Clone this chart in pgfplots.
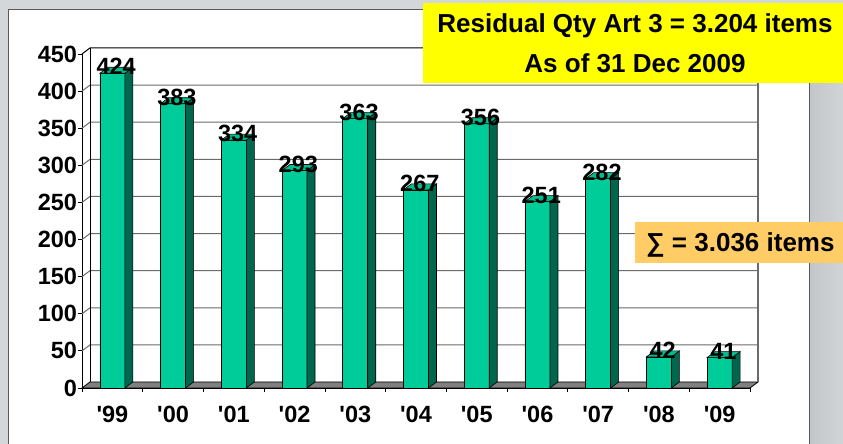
\documentclass[border=0pt]{standalone}
\usepackage{fontspec}
\setmainfont{Liberation Sans}[Ligatures=TeXOff]
\usepackage{pgfplots}
\usepackage{pgfplotstable}
\pgfplotsset{compat=1.18}
\definecolor{barfront}{HTML}{00CC99}
\definecolor{barside}{HTML}{00664D}
\definecolor{bartop}{HTML}{00BD8E}
\definecolor{bgray}{HTML}{D3D7DA}
\definecolor{rgray}{HTML}{C2C6C9}
\definecolor{gridc}{HTML}{6A6A6A}
\definecolor{boxyellow}{HTML}{FFFF00}
\definecolor{boxorange}{HTML}{FFCC66}
\pgfdeclareplotmark{empty}{}

\pgfplotstableread{
x y
0 424
1 383
2 334
3 293
4 363
5 267
6 356
7 251
8 282
9 42
10 41
}\datatable

\begin{document}
\begin{tikzpicture}
\useasboundingbox (0pt,0pt) rectangle (843pt,444pt);
\fill[bgray] (0pt,0pt) rectangle (843pt,444pt);
\shade[left color=rgray, right color=rgray!75!white] (809pt,0pt) rectangle (843pt,434pt);
\filldraw[fill=white, draw=black!65, line width=1pt] (8pt,-3pt) rectangle (809pt,434pt);
\begin{axis}[
  at={(82pt,56pt)}, anchor=south west,
  width=668pt, height=334pt, scale only axis,
  xmin=-0.5, xmax=10.5, ymin=0, ymax=450,
  axis lines*=left,
  axis line style={black, line width=0.8pt},
  every tick/.style={black, line width=0.8pt},
  tick align=outside, major tick length=4.5pt,
  ytick={0,50,...,450},
  xtick={-0.5,0.5,...,10.5}, xticklabels={},
  extra x ticks={0,1,...,10},
  extra x tick labels={'99,'00,'01,'02,'03,'04,'05,'06,'07,'08,'09},
  extra x tick style={major tick length=0pt},
  xticklabel style={anchor=base, yshift=-35pt},
  yticklabel style={xshift=3pt},
  tick label style={font=\bfseries\fontsize{23.5}{23.5}\selectfont},
  /pgf/number format/assume math mode=true,
  clip=false,
]
% floor
\filldraw[fill=gray, draw=black, line width=0.8pt] (axis cs:-0.5,0) -- ++(8pt,6pt) -- ([shift={(8pt,6pt)}]axis cs:10.5,0) -- (axis cs:10.5,0) -- cycle;
% back wall grid
\pgfplotsinvokeforeach{50,100,...,400}{
  \draw[gridc, line width=1pt] (axis cs:-0.5,#1) -- ++(8pt,6pt) -- ([shift={(8pt,6pt)}]axis cs:10.5,#1);
}
\draw[black, line width=1pt] (axis cs:-0.5,450) -- ++(8pt,6pt) -- ([shift={(8pt,6pt)}]axis cs:10.5,450);
\draw[black, line width=0.8pt] ([shift={(8pt,6pt)}]axis cs:-0.5,0) -- ([shift={(8pt,6pt)}]axis cs:-0.5,450);
\draw[gridc, line width=1.2pt] ([shift={(8pt,6pt)}]axis cs:10.5,0) -- ([shift={(8pt,6pt)}]axis cs:10.5,450);
% front faces
\addplot[ybar, bar width=25pt, fill=barfront, draw=black, line width=0.6pt] table[x=x,y=y] {\datatable};
% side and top faces
\addplot[scatter, only marks, mark=empty,
  visualization depends on={\thisrow{y} \as \barv},
  scatter/@pre marker code/.code={%
    \pgfkeys{/pgf/fpu=true,/pgf/fpu/output format=fixed}%
    \pgfmathparse{6-\barv*334/450}\let\barb\pgfmathresult
    \pgfmathparse{0-\barv*334/450}\let\barc\pgfmathresult
    \pgfkeys{/pgf/fpu=false}%
    \filldraw[fill=barside, draw=black, line width=0.6pt] (12.5pt,0pt) -- (20.5pt,6pt) -- (20.5pt,\barb pt) -- (12.5pt,\barc pt) -- cycle;
    \filldraw[fill=bartop, draw=black, line width=0.6pt] (-12.5pt,0pt) -- (12.5pt,0pt) -- (20.5pt,6pt) -- (-4.5pt,6pt) -- cycle;
  },
  scatter/@post marker code/.code={}
] table[x=x,y=y] {\datatable};
% value labels
\addplot[draw=none, nodes near coords,
  every node near coord/.append style={anchor=center, xshift=3.8pt, yshift=6.5pt, text=black, font=\bfseries\fontsize{23.5}{23.5}\selectfont}
] table[x=x,y=y] {\datatable};
\end{axis}
% boxes
\fill[boxyellow] (423pt,361pt) rectangle (843pt,441pt);
\node[anchor=base, inner sep=0pt, font=\bfseries\fontsize{26}{26}\selectfont] at (635pt,411pt) {Residual Qty Art 3 = 3.204 items};
\node[anchor=base, inner sep=0pt, font=\bfseries\fontsize{26}{26}\selectfont] at (635pt,371pt) {As of 31 Dec 2009};
\fill[boxorange] (635pt,181pt) rectangle (843pt,222pt);
\node[anchor=base west, inner sep=0pt, font=\bfseries\fontsize{26}{26}\selectfont] at (646pt,192pt) {∑ = 3.036 items};
\end{tikzpicture}
\end{document}
